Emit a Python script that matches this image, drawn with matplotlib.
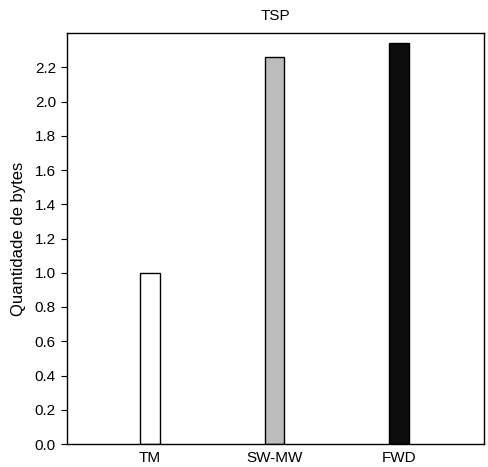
import matplotlib
matplotlib.use("Agg")
import matplotlib.pyplot as plt

categories = ["TM", "SW-MW", "FWD"]
values = [1.0, 2.26, 2.34]
yticks = [0.0, 0.2, 0.4, 0.6, 0.8, 1.0, 1.2, 1.4, 1.6, 1.8, 2.0, 2.2]

plt.rcParams["font.family"] = ["Liberation Sans", "DejaVu Sans"]

fig = plt.figure(figsize=(4.89, 4.67), dpi=100)
ax = fig.add_axes([67 / 489, 1 - 444 / 467, 417 / 489, 411 / 467])

positions = [1, 2, 3]
faces = ["white", "#bcbcbc", "#0d0d0d"]
ax.bar(positions, values, width=0.16, color=faces, edgecolor="black", linewidth=1.0)

ax.set_xlim(0.336, 3.68)
ax.set_ylim(0, 2.4)
ax.set_yticks(yticks)
ax.set_yticklabels([f"{v:.1f}" for v in yticks], fontsize=11)
ax.set_xticks(positions)
ax.set_xticklabels(categories, fontsize=11)
ax.tick_params(axis="x", length=0, pad=5)
ax.tick_params(axis="y", direction="out", length=4, pad=4)
ax.set_ylabel("Quantidade de bytes", fontsize=12, labelpad=6)
ax.set_title("TSP", fontsize=11, pad=9)
for s in ax.spines.values():
    s.set_linewidth(1.0)

fig.savefig("out.png", dpi=100)
